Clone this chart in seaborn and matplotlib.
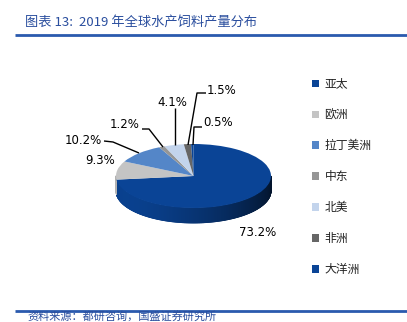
import numpy as np
import matplotlib
matplotlib.use("Agg")
import matplotlib.pyplot as plt
from matplotlib.collections import PolyCollection
import matplotlib.colors as mcolors
import seaborn as sns

# ---------------- data ----------------
regions = ["亚太", "欧洲", "拉丁美洲", "中东", "北美", "非洲", "大洋洲"]
shares = [73.2, 9.3, 10.2, 1.2, 4.1, 1.5, 0.5]
colors = ["#0A4496", "#C4C4C4", "#5486C8", "#969696", "#C3D4EC", "#666666", "#0A4496"]
title = "图表 13:  2019 年全球水产饲料产量分布"
source = "资料来源：都研咨询，国盛证券研究所"

# ---------------- style ----------------
sns.set_theme(style="white")
plt.rcParams["font.family"] = ["Noto Sans CJK SC", "DejaVu Sans"]

W, H = 407, 322
fig = plt.figure(figsize=(W / 100, H / 100), dpi=100)
ax = fig.add_axes([0, 0, 1, 1])

CX, CY, RX, RY = 193.5, 176.0, 77.5, 32.0   # pie centre / radii in pixels
DEPTH = 15.0 / RY                            # side-wall depth in data units


def P(px, py):
    """pixel position -> data coordinates"""
    return ((px - CX) / RX, (CY - py) / RY)


# ---------------- side walls ----------------
fr = np.array(shares) / np.sum(shares)
starts = 90 - 360 * np.concatenate([[0], np.cumsum(fr)[:-1]])
ends = starts - 360 * fr
polys, pcols = [], []
for s, e, c in zip(starts, ends, colors):
    ts = np.linspace(e, s, max(int((s - e) * 2), 2))
    base = np.array(mcolors.to_rgb(c))
    for t1, t2 in zip(ts[:-1], ts[1:]):
        tm = np.deg2rad((t1 + t2) / 2)
        if np.sin(tm) > 0.0:
            continue
        a1, a2 = np.deg2rad(t1), np.deg2rad(t2)
        polys.append([(np.cos(a1), np.sin(a1)), (np.cos(a2), np.sin(a2)),
                      (np.cos(a2), np.sin(a2) - DEPTH), (np.cos(a1), np.sin(a1) - DEPTH)])
        shade = 0.6 + 0.35 * np.cos(tm - np.deg2rad(210))
        pcols.append(tuple(np.clip(base * shade, 0, 1)))
side = PolyCollection(polys, facecolors=pcols, edgecolors=pcols, linewidths=0.6, zorder=0.5)
ax.add_collection(side)

# ---------------- top face ----------------
wedges, _ = ax.pie(shares, colors=colors, startangle=90, counterclock=False,
                   radius=1, center=(0, 0), frame=True,
                   wedgeprops=dict(linewidth=0))
for w in wedges:
    w.set_zorder(1)

ax.set_aspect("auto")
ax.set_xlim(-CX / RX, (W - CX) / RX)
ax.set_ylim(-(H - CY) / RY, CY / RY)
ax.axis("off")

# ---------------- percentage labels ----------------
lab_pos = [(258, 232), (100, 161), (83, 140), (125, 124), (172, 102), (222, 91), (218, 123)]
leaders = [None, None,
           [(104, 141), (113, 142), (139, 153)],
           [(142, 129), (149, 129), (163, 147)],
           [(175, 108), (175, 145)],
           [(206, 93), (197, 93), (188, 145)],
           [(202, 127), (194, 127), (193, 145)]]
for v, pos, ld in zip(shares, lab_pos, leaders):
    ax.text(*P(*pos), f"{v:.1f}%", ha="center", va="center", fontsize=8.5,
            family="DejaVu Sans", color="black", zorder=3)
    if ld:
        xs, ys = zip(*[P(*p) for p in ld])
        ax.plot(xs, ys, color="black", lw=1.0, zorder=2, solid_capstyle="butt")

# ---------------- legend ----------------
leg = ax.legend(wedges, regions, loc="upper left",
                bbox_to_anchor=(312 / W, 1 - 77.5 / H), frameon=False,
                fontsize=8.5, labelspacing=1.52, handlelength=0.6, handleheight=0.6,
                handletextpad=0.45, borderpad=0, borderaxespad=0)
for t in leg.get_texts():
    t.set_color("#222222")

# ---------------- title, rules, source ----------------
tcol = "#2A4E9E"
ax.text(*P(25, 22), title, ha="left", va="center", fontsize=9.5, color=tcol,
        style="italic")
ax.plot(*zip(P(15, 35), P(W, 35)), color="#2A5AAE", lw=2.0, solid_capstyle="butt")
ax.plot(*zip(P(15, 311), P(W, 311)), color="#2A5AAE", lw=2.0, solid_capstyle="butt")
ax.text(*P(27, 321.5), source, ha="left", va="bottom", fontsize=8, color=tcol,
        style="italic")

fig.savefig("out.png", dpi=100)
